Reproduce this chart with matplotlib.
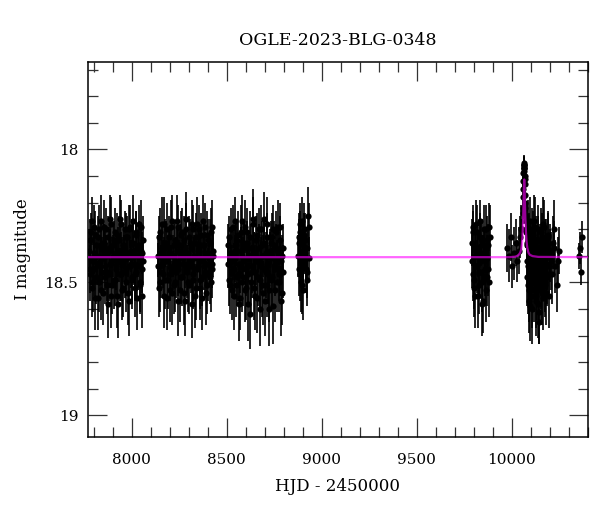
import numpy as np
import matplotlib
matplotlib.use('Agg')
import matplotlib.pyplot as plt
from matplotlib.ticker import MultipleLocator

# photometry, read off the picture season by season (HJD - 2450000, I mag, error)
# two interleaved sets per season (a/b), the seasons are densely sampled
t1 = [7776, 7781, 7785, 7790, 7795, 7800, 7804, 7809, 7814, 7819, 7824, 7828, 7833, 7838, 7843,
      7848, 7852, 7857, 7862, 7867, 7872, 7876, 7881, 7886, 7891, 7896, 7900, 7905, 7910, 7915,
      7920, 7924, 7929, 7934, 7939, 7944, 7948, 7953, 7958, 7963, 7968, 7972, 7977, 7982, 7987,
      7992, 7996, 8001, 8006, 8011, 8016, 8020, 8025, 8030, 8035, 8040, 8044, 8049, 8054, 8059]
m1 = [18.38, 18.47, 18.31, 18.52, 18.42, 18.29, 18.45, 18.56, 18.36, 18.40, 18.33, 18.50, 18.44, 18.27, 18.41,
      18.54, 18.35, 18.48, 18.39, 18.30, 18.46, 18.58, 18.37, 18.43, 18.28, 18.51, 18.40, 18.34, 18.49, 18.44,
      18.32, 18.55, 18.38, 18.42, 18.26, 18.47, 18.53, 18.36, 18.41, 18.30, 18.50, 18.45, 18.33, 18.39, 18.57,
      18.29, 18.43, 18.48, 18.35, 18.40, 18.52, 18.31, 18.46, 18.37, 18.44, 18.28, 18.50, 18.38, 18.55, 18.42]
e1 = [0.08, 0.10, 0.07, 0.11, 0.09, 0.08, 0.10, 0.12, 0.07, 0.09, 0.08, 0.11, 0.09, 0.10, 0.08,
      0.12, 0.07, 0.10, 0.09, 0.08, 0.11, 0.13, 0.08, 0.09, 0.10, 0.11, 0.08, 0.07, 0.10, 0.09,
      0.08, 0.12, 0.09, 0.08, 0.09, 0.10, 0.11, 0.08, 0.09, 0.07, 0.11, 0.10, 0.08, 0.09, 0.13,
      0.08, 0.09, 0.10, 0.07, 0.08, 0.11, 0.08, 0.10, 0.09, 0.09, 0.07, 0.11, 0.08, 0.12, 0.09]
t1b = [7778, 7783, 7788, 7792, 7797, 7802, 7807, 7812, 7816, 7821, 7826, 7831, 7836, 7840, 7845,
       7850, 7855, 7860, 7864, 7869, 7874, 7879, 7884, 7888, 7893, 7898, 7903, 7908, 7912, 7917,
       7922, 7927, 7932, 7936, 7941, 7946, 7951, 7956, 7960, 7965, 7970, 7975, 7980, 7984, 7989,
       7994, 7999, 8004, 8008, 8013, 8018, 8023, 8028, 8032, 8037, 8042, 8047, 8052, 8056, 8060]
m1b = [18.45, 18.34, 18.41, 18.27, 18.50, 18.39, 18.32, 18.48, 18.43, 18.56, 18.30, 18.42, 18.37, 18.53, 18.46,
       18.35, 18.29, 18.44, 18.40, 18.51, 18.33, 18.47, 18.26, 18.38, 18.55, 18.42, 18.36, 18.49, 18.31, 18.45,
       18.40, 18.58, 18.34, 18.47, 18.39, 18.28, 18.43, 18.52, 18.37, 18.46, 18.33, 18.41, 18.54, 18.30, 18.44,
       18.38, 18.49, 18.35, 18.27, 18.43, 18.47, 18.32, 18.56, 18.40, 18.36, 18.51, 18.29, 18.45, 18.39, 18.34]
e1b = [0.09, 0.08, 0.10, 0.09, 0.11, 0.08, 0.09, 0.10, 0.08, 0.12, 0.09, 0.08, 0.10, 0.11, 0.09,
       0.08, 0.10, 0.09, 0.08, 0.11, 0.08, 0.10, 0.09, 0.08, 0.12, 0.09, 0.08, 0.11, 0.09, 0.10,
       0.08, 0.13, 0.09, 0.10, 0.08, 0.09, 0.10, 0.11, 0.08, 0.10, 0.09, 0.08, 0.12, 0.09, 0.10,
       0.08, 0.11, 0.09, 0.10, 0.08, 0.10, 0.09, 0.12, 0.08, 0.09, 0.11, 0.10, 0.09, 0.08, 0.09]

t2 = [8138, 8143, 8148, 8153, 8158, 8163, 8168, 8172, 8177, 8182, 8187, 8192, 8197, 8202, 8207,
      8212, 8217, 8222, 8226, 8231, 8236, 8241, 8246, 8251, 8256, 8261, 8266, 8271, 8276, 8280,
      8285, 8290, 8295, 8300, 8305, 8310, 8315, 8320, 8325, 8330, 8334, 8339, 8344, 8349, 8354,
      8359, 8364, 8369, 8374, 8379, 8384, 8388, 8393, 8398, 8403, 8408, 8413, 8418, 8423, 8427]
m2 = [18.44, 18.33, 18.50, 18.39, 18.28, 18.47, 18.41, 18.55, 18.35, 18.42, 18.30, 18.49, 18.37, 18.53, 18.45,
      18.27, 18.40, 18.51, 18.34, 18.46, 18.38, 18.29, 18.57, 18.43, 18.36, 18.48, 18.31, 18.41, 18.54, 18.39,
      18.26, 18.45, 18.50, 18.33, 18.42, 18.37, 18.58, 18.30, 18.47, 18.40, 18.35, 18.52, 18.28, 18.44, 18.38,
      18.49, 18.32, 18.56, 18.41, 18.36, 18.46, 18.29, 18.43, 18.51, 18.34, 18.40, 18.48, 18.31, 18.45, 18.38]
e2 = [0.09, 0.08, 0.11, 0.08, 0.10, 0.09, 0.08, 0.12, 0.09, 0.07, 0.10, 0.11, 0.08, 0.12, 0.09,
      0.10, 0.08, 0.11, 0.07, 0.10, 0.09, 0.08, 0.13, 0.09, 0.08, 0.10, 0.09, 0.07, 0.12, 0.08,
      0.10, 0.09, 0.11, 0.08, 0.09, 0.08, 0.13, 0.09, 0.10, 0.08, 0.07, 0.12, 0.10, 0.09, 0.08,
      0.11, 0.08, 0.12, 0.09, 0.08, 0.10, 0.09, 0.08, 0.11, 0.08, 0.07, 0.10, 0.09, 0.11, 0.08]
t2b = [8140, 8145, 8150, 8155, 8160, 8165, 8170, 8175, 8180, 8185, 8190, 8194, 8199, 8204, 8209,
       8214, 8219, 8224, 8229, 8234, 8239, 8244, 8249, 8253, 8258, 8263, 8268, 8273, 8278, 8283,
       8288, 8293, 8298, 8303, 8308, 8312, 8317, 8322, 8327, 8332, 8337, 8342, 8347, 8352, 8357,
       8362, 8367, 8371, 8376, 8381, 8386, 8391, 8396, 8401, 8406, 8411, 8416, 8421, 8425, 8429]
m2b = [18.40, 18.52, 18.31, 18.46, 18.37, 18.43, 18.28, 18.49, 18.35, 18.56, 18.41, 18.33, 18.47, 18.39, 18.29,
       18.54, 18.44, 18.36, 18.50, 18.42, 18.27, 18.45, 18.38, 18.53, 18.32, 18.48, 18.40, 18.34, 18.57, 18.43,
       18.30, 18.46, 18.39, 18.51, 18.35, 18.44, 18.28, 18.49, 18.41, 18.55, 18.33, 18.45, 18.38, 18.30, 18.52,
       18.42, 18.36, 18.48, 18.27, 18.44, 18.39, 18.54, 18.32, 18.47, 18.41, 18.35, 18.50, 18.43, 18.29, 18.40]
e2b = [0.08, 0.11, 0.09, 0.10, 0.08, 0.09, 0.10, 0.11, 0.08, 0.12, 0.09, 0.08, 0.10, 0.09, 0.10,
       0.12, 0.09, 0.08, 0.11, 0.09, 0.10, 0.10, 0.08, 0.12, 0.09, 0.11, 0.08, 0.09, 0.13, 0.09,
       0.10, 0.10, 0.08, 0.11, 0.09, 0.10, 0.09, 0.11, 0.08, 0.12, 0.09, 0.10, 0.08, 0.09, 0.12,
       0.09, 0.08, 0.11, 0.10, 0.09, 0.08, 0.12, 0.09, 0.10, 0.08, 0.09, 0.11, 0.09, 0.10, 0.08]

t3 = [8507, 8512, 8517, 8522, 8527, 8531, 8536, 8541, 8546, 8551, 8556, 8561, 8566, 8570, 8575,
      8580, 8585, 8590, 8595, 8600, 8605, 8609, 8614, 8619, 8624, 8629, 8634, 8639, 8644, 8648,
      8653, 8658, 8663, 8668, 8673, 8678, 8683, 8687, 8692, 8697, 8702, 8707, 8712, 8717, 8722,
      8726, 8731, 8736, 8741, 8746, 8751, 8756, 8761, 8765, 8770, 8775, 8780, 8785, 8790, 8795]
m3 = [18.36, 18.49, 18.42, 18.30, 18.53, 18.40, 18.45, 18.27, 18.38, 18.51, 18.34, 18.47, 18.43, 18.56, 18.31,
      18.40, 18.48, 18.37, 18.29, 18.52, 18.44, 18.35, 18.58, 18.41, 18.33, 18.50, 18.46, 18.26, 18.39, 18.55,
      18.42, 18.32, 18.48, 18.37, 18.60, 18.44, 18.30, 18.51, 18.40, 18.35, 18.57, 18.46, 18.28, 18.43, 18.53,
      18.38, 18.49, 18.33, 18.41, 18.59, 18.36, 18.45, 18.31, 18.50, 18.39, 18.47, 18.29, 18.42, 18.54, 18.37]
e3 = [0.08, 0.10, 0.09, 0.08, 0.11, 0.09, 0.10, 0.09, 0.08, 0.12, 0.08, 0.10, 0.09, 0.12, 0.10,
      0.08, 0.11, 0.09, 0.10, 0.12, 0.09, 0.08, 0.14, 0.09, 0.10, 0.11, 0.10, 0.11, 0.08, 0.13,
      0.09, 0.08, 0.11, 0.09, 0.14, 0.10, 0.09, 0.12, 0.08, 0.09, 0.13, 0.10, 0.10, 0.09, 0.12,
      0.08, 0.11, 0.09, 0.08, 0.14, 0.09, 0.10, 0.08, 0.11, 0.09, 0.10, 0.09, 0.08, 0.12, 0.09]
t3b = [8509, 8514, 8519, 8524, 8529, 8534, 8539, 8544, 8548, 8553, 8558, 8563, 8568, 8573, 8578,
       8583, 8588, 8592, 8597, 8602, 8607, 8612, 8617, 8622, 8627, 8631, 8636, 8641, 8646, 8651,
       8656, 8661, 8666, 8671, 8675, 8680, 8685, 8690, 8695, 8700, 8705, 8710, 8714, 8719, 8724,
       8729, 8734, 8739, 8744, 8749, 8753, 8758, 8763, 8768, 8773, 8778, 8783, 8788, 8792, 8797]
m3b = [18.43, 18.33, 18.51, 18.39, 18.46, 18.29, 18.55, 18.41, 18.36, 18.48, 18.32, 18.58, 18.44, 18.38, 18.27,
       18.50, 18.42, 18.35, 18.53, 18.45, 18.31, 18.47, 18.40, 18.62, 18.37, 18.44, 18.28, 18.52, 18.39, 18.46,
       18.34, 18.56, 18.41, 18.30, 18.49, 18.43, 18.36, 18.54, 18.26, 18.45, 18.39, 18.51, 18.33, 18.47, 18.60,
       18.40, 18.35, 18.48, 18.30, 18.44, 18.53, 18.37, 18.42, 18.29, 18.50, 18.45, 18.34, 18.57, 18.40, 18.46]
e3b = [0.09, 0.08, 0.11, 0.09, 0.10, 0.08, 0.13, 0.09, 0.08, 0.11, 0.09, 0.14, 0.10, 0.09, 0.10,
       0.11, 0.09, 0.08, 0.12, 0.10, 0.09, 0.11, 0.08, 0.13, 0.09, 0.10, 0.10, 0.12, 0.08, 0.10,
       0.09, 0.13, 0.09, 0.08, 0.11, 0.10, 0.09, 0.12, 0.10, 0.10, 0.08, 0.12, 0.09, 0.11, 0.14,
       0.09, 0.08, 0.11, 0.09, 0.10, 0.12, 0.09, 0.08, 0.10, 0.11, 0.10, 0.09, 0.13, 0.08, 0.10]

t4 = [8877, 8880, 8884, 8888, 8891, 8895, 8899, 8902, 8906, 8910, 8913, 8917, 8921, 8925, 8929, 8933,
      8878, 8882, 8886, 8889, 8893, 8897, 8900, 8904, 8908, 8915, 8923, 8931]
m4 = [18.40, 18.33, 18.47, 18.28, 18.42, 18.51, 18.36, 18.44, 18.30, 18.39, 18.34, 18.45, 18.37, 18.49, 18.25, 18.41,
      18.35, 18.45, 18.31, 18.50, 18.38, 18.27, 18.43, 18.53, 18.32, 18.41, 18.46, 18.29]
e4 = [0.08, 0.09, 0.10, 0.08, 0.09, 0.11, 0.08, 0.09, 0.10, 0.08, 0.10, 0.09, 0.08, 0.10, 0.11, 0.08,
      0.09, 0.10, 0.08, 0.11, 0.09, 0.09, 0.10, 0.11, 0.08, 0.09, 0.10, 0.09]

t5 = [9790, 9794, 9798, 9803, 9807, 9811, 9816, 9820, 9824, 9829, 9833,
      9837, 9842, 9846, 9850, 9855, 9859, 9863, 9868, 9872, 9877, 9884,
      9792, 9796, 9800, 9805, 9809, 9813, 9818, 9822, 9826, 9831, 9835,
      9839, 9844, 9848, 9852, 9857, 9861, 9865, 9870, 9874, 9879, 9882]
m5 = [18.35, 18.47, 18.29, 18.52, 18.40, 18.44, 18.31, 18.55, 18.38, 18.46, 18.27,
      18.42, 18.50, 18.34, 18.57, 18.39, 18.45, 18.30, 18.48, 18.41, 18.36, 18.33,
      18.42, 18.31, 18.49, 18.37, 18.55, 18.28, 18.44, 18.40, 18.51, 18.33, 18.46,
      18.36, 18.58, 18.41, 18.30, 18.48, 18.38, 18.53, 18.34, 18.45, 18.29, 18.50]
e5 = [0.09, 0.10, 0.08, 0.11, 0.09, 0.08, 0.10, 0.12, 0.09, 0.10, 0.08,
      0.09, 0.11, 0.08, 0.12, 0.09, 0.10, 0.09, 0.11, 0.09, 0.08, 0.12,
      0.10, 0.08, 0.11, 0.09, 0.12, 0.09, 0.10, 0.08, 0.11, 0.09, 0.10,
      0.08, 0.12, 0.09, 0.09, 0.11, 0.08, 0.12, 0.09, 0.10, 0.09, 0.13]

# 2023 season: before, during and after the event
t6 = [9976, 9985, 9994, 10003, 10012, 10020, 10028, 10036, 10044, 10050,
      10054, 10057, 10059, 10061, 10062, 10063, 10064, 10065, 10066, 10067, 10068, 10069, 10070,
      10072, 10074, 10076, 10078,
      10058, 10060, 10063.5, 10065.5, 10066.5, 10068.5, 10071, 10073,
      10080, 10083, 10086, 10089, 10092, 10095, 10098, 10101, 10104, 10107, 10110, 10113, 10116,
      10119, 10122, 10125, 10128, 10131, 10134, 10137, 10140, 10143, 10146, 10149, 10152, 10155,
      10158, 10161, 10164, 10167, 10170, 10173, 10176, 10179, 10182, 10186, 10190, 10195, 10200,
      10208, 10215, 10225, 10237, 10243, 10250]
m6 = [18.37, 18.40, 18.33, 18.44, 18.39, 18.35, 18.42, 18.38, 18.33, 18.30,
      18.30, 18.24, 18.18, 18.12, 18.09, 18.07, 18.05, 18.06, 18.08, 18.07, 18.10, 18.13, 18.17,
      18.22, 18.27, 18.31, 18.35,
      18.22, 18.15, 18.06, 18.07, 18.06, 18.11, 18.20, 18.25,
      18.42, 18.30, 18.51, 18.38, 18.57, 18.45, 18.27, 18.49, 18.36, 18.60, 18.43, 18.32, 18.53,
      18.40, 18.47, 18.29, 18.55, 18.38, 18.44, 18.34, 18.58, 18.48, 18.65, 18.41, 18.31, 18.52,
      18.46, 18.37, 18.56, 18.28, 18.43, 18.50, 18.35, 18.54, 18.40, 18.47, 18.33, 18.44, 18.38,
      18.42, 18.35, 18.30, 18.51, 18.42, 18.38]
e6 = [0.09, 0.10, 0.09, 0.08, 0.10, 0.09, 0.08, 0.09, 0.08, 0.09,
      0.04, 0.04, 0.04, 0.04, 0.03, 0.03, 0.03, 0.03, 0.03, 0.03, 0.03, 0.04, 0.04,
      0.05, 0.05, 0.06, 0.07,
      0.04, 0.04, 0.035, 0.03, 0.03, 0.04, 0.04, 0.05,
      0.09, 0.10, 0.11, 0.09, 0.12, 0.10, 0.09, 0.11, 0.08, 0.13, 0.10, 0.09, 0.12,
      0.09, 0.10, 0.11, 0.12, 0.09, 0.10, 0.09, 0.13, 0.11, 0.08, 0.10, 0.09, 0.12,
      0.10, 0.09, 0.12, 0.10, 0.09, 0.11, 0.09, 0.12, 0.10, 0.11, 0.09, 0.10, 0.10,
      0.11, 0.10, 0.11, 0.10, 0.09, 0.09]
t6b = [10079, 10081, 10084, 10087, 10090, 10091, 10094, 10097, 10099, 10102,
       10105, 10108, 10109, 10112, 10115, 10118, 10120, 10123, 10126, 10127,
       10130, 10133, 10136, 10138, 10141, 10144, 10147, 10150, 10153, 10156,
       10159, 10162, 10165, 10168, 10171, 10174, 10177, 10180, 10184,
       10188, 10192, 10197, 10203, 10210, 10220, 10230]
m6b = [18.36, 18.48, 18.29, 18.44, 18.53, 18.33, 18.41, 18.59, 18.38, 18.46,
       18.31, 18.55, 18.42, 18.35, 18.50, 18.27, 18.45, 18.39, 18.57, 18.43,
       18.34, 18.52, 18.40, 18.47, 18.30, 18.61, 18.44, 18.37, 18.49, 18.42,
       18.33, 18.54, 18.39, 18.46, 18.29, 18.51, 18.41, 18.36, 18.48,
       18.43, 18.32, 18.55, 18.40, 18.47, 18.37, 18.44]
e6b = [0.09, 0.11, 0.10, 0.10, 0.12, 0.09, 0.10, 0.13, 0.09, 0.11,
       0.09, 0.12, 0.10, 0.09, 0.11, 0.10, 0.10, 0.09, 0.13, 0.10,
       0.09, 0.12, 0.10, 0.11, 0.09, 0.12, 0.10, 0.09, 0.11, 0.10,
       0.09, 0.12, 0.10, 0.11, 0.10, 0.12, 0.09, 0.10, 0.11,
       0.10, 0.09, 0.12, 0.10, 0.11, 0.10, 0.10]

t7 = [10352, 10360, 10365, 10372]
m7 = [18.40, 18.37, 18.46, 18.33]
e7 = [0.05, 0.06, 0.05, 0.06]

# model light curve
model_t = [7770, 9990, 10020, 10035, 10045, 10050, 10054, 10057, 10060, 10062, 10064, 10066,
           10068, 10070, 10072, 10075, 10078, 10082, 10088, 10095, 10110, 10140, 10400]
model_m = [18.405, 18.405, 18.403, 18.398, 18.388, 18.376, 18.355, 18.325, 18.27, 18.21, 18.15, 18.113,
           18.15, 18.21, 18.26, 18.31, 18.345, 18.37, 18.388, 18.396, 18.401, 18.404, 18.405]

t_all = t1 + t1b + t2 + t2b + t3 + t3b + t4 + t5 + t6 + t6b + t7
m_all = m1 + m1b + m2 + m2b + m3 + m3b + m4 + m5 + m6 + m6b + m7
e_all = e1 + e1b + e2 + e2b + e3 + e3b + e4 + e5 + e6 + e6b + e7

plt.rcParams['font.family'] = ['DejaVu Serif']

fig = plt.figure(figsize=(6, 5.12), dpi=100)
ax = fig.add_axes([0.1467, 0.1471, 0.8328, 0.7324])

ax.errorbar(t_all, m_all, yerr=e_all, fmt='o', color='black', ms=4.5, mew=0,
            elinewidth=1.2, capsize=3.0, capthick=1.1, zorder=2)
ax.plot(model_t, model_m, color='magenta', lw=1.6, alpha=0.6, zorder=3)

ax.set_xlim(7770, 10400)
ax.set_ylim(19.08, 17.67)

ax.xaxis.set_major_locator(MultipleLocator(500))
ax.xaxis.set_minor_locator(MultipleLocator(100))
ax.yaxis.set_major_locator(MultipleLocator(0.5))
ax.yaxis.set_minor_locator(MultipleLocator(0.1))
ax.yaxis.set_major_formatter(plt.FuncFormatter(lambda v, p: f'{v:g}'))

ax.tick_params(which='both', direction='in', top=True, right=True, color='#333333', width=0.9)
ax.tick_params(which='major', length=13.5, labelsize=11)
ax.tick_params(which='minor', length=7)
ax.tick_params(axis='x', which='major', pad=12)
ax.tick_params(axis='y', which='major', pad=7)
for s in ax.spines.values():
    s.set_linewidth(1.1)

ax.set_xlabel('HJD - 2450000', fontsize=12, labelpad=8)
ax.set_ylabel('I magnitude', fontsize=12, labelpad=10)
ax.set_title('OGLE-2023-BLG-0348', fontsize=12.5, pad=12)

plt.savefig('out.png', dpi=100)
